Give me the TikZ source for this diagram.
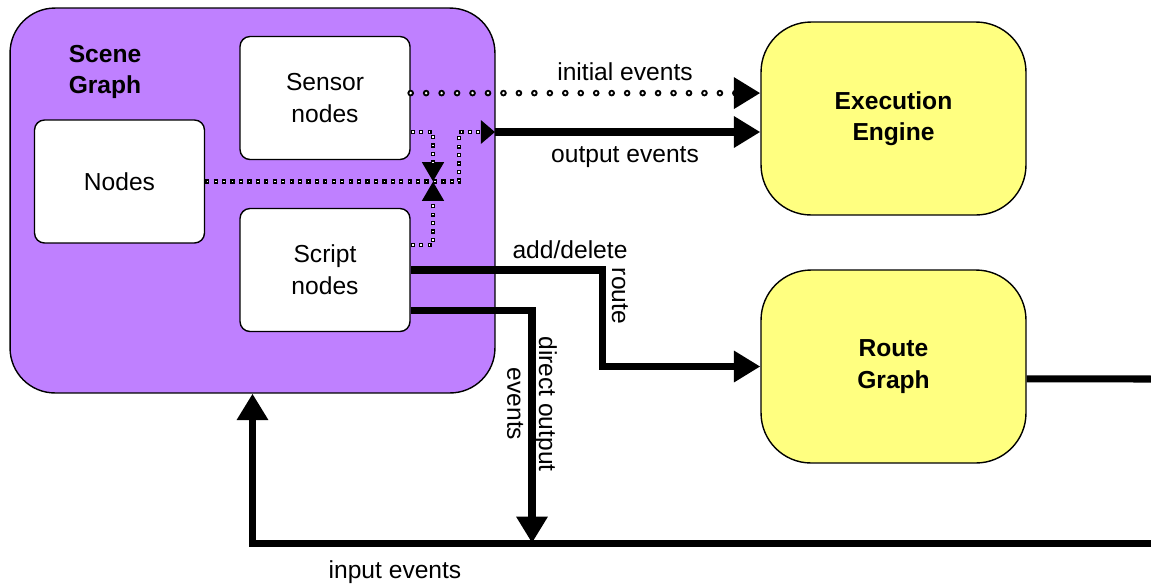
\documentclass[tikz,border=0pt]{standalone}
\usepackage{fontspec}
\setmainfont{Liberation Sans}
\usetikzlibrary{calc,positioning,arrows.meta}

\definecolor{scenepurple}{RGB}{191,128,255}
\definecolor{engineyellow}{RGB}{255,255,128}

\tikzset{
  heavy/.style={line width=4pt},
  bigtip/.style={-{Triangle[length=15pt,width=17pt]}},
  smalltip/.style={-{Triangle[length=11pt,width=12pt]}},
  sqdots/.style={line width=2.4pt,dash pattern=on 2.4pt off 2.4pt,
    postaction={draw=white,line width=0.9pt,dash pattern=on 0.9pt off 3.9pt,dash phase=4.05pt,arrows=-,shorten >=#1}},
  circdots/.style={line width=3.8pt,line cap=round,dash pattern=on 0pt off 8.8pt,
    postaction={draw=white,line width=1.6pt,line cap=round,dash pattern=on 0pt off 8.8pt,arrows=-,shorten >=16pt}}
}

\begin{document}
\begin{tikzpicture}[x=0.02cm,y=-0.02cm,font=\fontsize{14}{18}\selectfont]
  \useasboundingbox (0,0) rectangle (1151,586);

  \node[rectangle,draw,line width=0.8pt,fill=scenepurple,rounded corners=0.9cm,minimum width=9.7cm,minimum height=7.7cm] (scene) at (252.5,200.5) {};
  \node[align=center,font=\fontsize{14}{18}\selectfont\bfseries] (scenelbl) at (105,72) {Scene\\Graph};

  \begin{scope}[every node/.style={rectangle,draw,line width=0.8pt,fill=white,rounded corners=0.2cm,minimum width=3.4cm,minimum height=2.46cm,align=center}]
    \node (sensor) at (325,98) {Sensor\\nodes};
    \node (nodes) at (119.5,181.5) {Nodes};
    \node (script) at (325,270) {Script\\nodes};
  \end{scope}

  \begin{scope}[every node/.style={rectangle,draw,line width=0.8pt,fill=engineyellow,rounded corners=1cm,minimum width=5.3cm,minimum height=3.86cm,align=center,font=\fontsize{14}{18}\selectfont\bfseries}]
    \node (engine) at (893.5,118.5) {Execution\\Engine};
    \node (route) at (893.5,366.5) {Route\\Graph};
  \end{scope}

  \coordinate (outtip) at (495,132);
  \coordinate (jn) at (433,181.5);
  \coordinate (edgeA) at (1151,379);
  \coordinate (edgeB) at (1151,543);
  \coordinate (drop) at (532,543);

  \draw[circdots,bigtip] ([yshift=2.8pt]sensor.east) coordinate (ini) -- (ini -| engine.west);
  \draw[heavy,bigtip] (outtip) -- (outtip -| engine.west);
  \draw[sqdots=8pt,-{Triangle[length=8pt,width=13pt]}] (nodes.east) -- ++(254,0) |- (outtip);
  \draw[sqdots=11pt,smalltip] ([yshift=-19.3pt]sensor.east) -| (jn);
  \draw[sqdots=11pt,smalltip] ([yshift=14.2pt]script.east) -| (jn);

  \draw[heavy,bigtip] (script.east) -- ++(192,0) |- (route.west);
  \draw[heavy,bigtip] ([yshift=-23.3pt]script.east) -| (drop);
  \draw[heavy] ([yshift=-7pt]route.east) -- (edgeA);
  \draw[heavy,bigtip] (edgeB) -| (scene.south);

  \node (inilbl) at (625,72) {initial events};
  \node (outlbl) at (625,157) {output events};
  \node (addlbl) at (570,250) {add/delete};
  \node[rotate=-90] (routelbl) at (620,296) {route};
  \node[rotate=-90,align=center] (directlbl) at (532,404) {direct output\\events};
  \node (inputlbl) at (395,572) {input events};
\end{tikzpicture}
\end{document}
